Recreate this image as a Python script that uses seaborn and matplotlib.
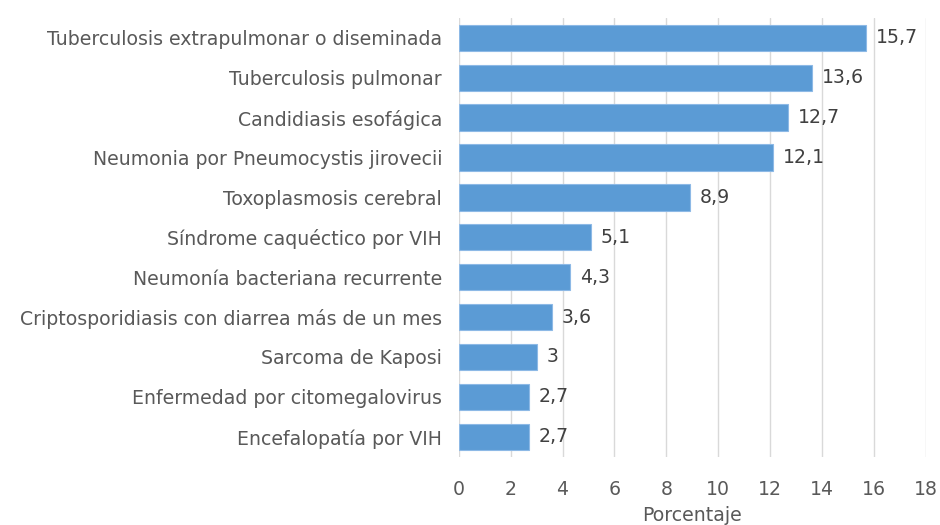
import matplotlib
matplotlib.use("Agg")
import matplotlib.pyplot as plt
import seaborn as sns
import pandas as pd

# Data
categorias = [
    "Tuberculosis extrapulmonar o diseminada",
    "Tuberculosis pulmonar",
    "Candidiasis esofágica",
    "Neumonia por Pneumocystis jirovecii",
    "Toxoplasmosis cerebral",
    "Síndrome caquéctico por VIH",
    "Neumonía bacteriana recurrente",
    "Criptosporidiasis con diarrea más de un mes",
    "Sarcoma de Kaposi",
    "Enfermedad por citomegalovirus",
    "Encefalopatía por VIH",
]
porcentajes = [15.7, 13.6, 12.7, 12.1, 8.9, 5.1, 4.3, 3.6, 3, 2.7, 2.7]
x_ticks = [0, 2, 4, 6, 8, 10, 12, 14, 16, 18]

df = pd.DataFrame({"categoria": categorias, "porcentaje": porcentajes})

sns.set_style("white")
plt.rcParams["font.family"] = ["DejaVu Sans"]
text_color = "#595959"
fs = 13.6

fig = plt.figure(figsize=(9.4, 5.25), dpi=100)
ax = fig.add_axes([0.488, 0.130, 0.497, 0.836])

sns.barplot(data=df, x="porcentaje", y="categoria", color="#5B9BD5",
            saturation=1, width=0.66, edgecolor="#8DB9E6", linewidth=0.8, ax=ax)

# value labels with decimal comma
for p, v in zip(ax.patches, porcentajes):
    label = f"{v:g}".replace(".", ",")
    ax.text(p.get_width() + 0.38, p.get_y() + p.get_height() / 2, label,
            va="center", ha="left", fontsize=fs, color="#404040")

ax.set_xlim(0, 18)
ax.set_ylim(10.5, -0.5)
ax.set_xticks(x_ticks)
ax.set_xticklabels([str(t) for t in x_ticks])
ax.xaxis.grid(True, color="#D9D9D9", linewidth=1)
ax.set_axisbelow(True)
for s in ax.spines.values():
    s.set_visible(False)
ax.tick_params(axis="both", length=0, labelsize=fs, colors=text_color)
ax.tick_params(axis="x", pad=17)
ax.tick_params(axis="y", pad=12)
ax.set_ylabel("")
ax.set_xlabel("Porcentaje", fontsize=fs, color=text_color, labelpad=5)

fig.savefig("out.png", dpi=100)
